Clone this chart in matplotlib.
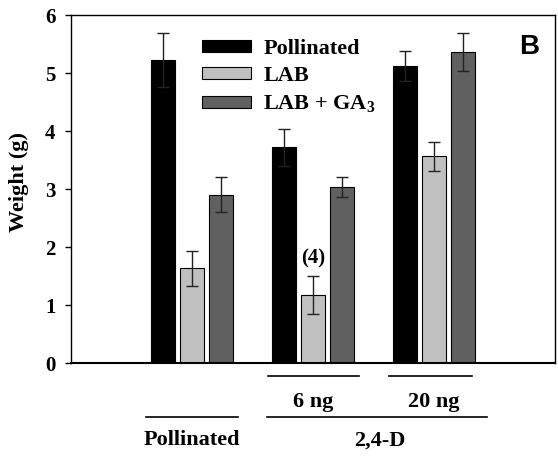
import numpy as np
import matplotlib.pyplot as plt
from matplotlib.patches import Patch

plt.rcParams['font.family'] = ['Liberation Serif', 'DejaVu Serif']
plt.rcParams['font.weight'] = 'bold'
plt.rcParams['mathtext.fontset'] = 'custom'
plt.rcParams['mathtext.rm'] = 'Liberation Serif:bold'
plt.rcParams['mathtext.it'] = 'Liberation Serif:bold'
plt.rcParams['mathtext.bf'] = 'Liberation Serif:bold'

# data
groups = ["Pollinated", "6 ng", "20 ng"]
series = ["Pollinated", "LAB", r"LAB + GA$_{\mathrm{3}}$"]
pollinated = [5.23, 3.72, 5.13]
pollinated_err = [0.46, 0.32, 0.26]
lab = [1.64, 1.18, 3.57]
lab_err = [0.30, 0.33, 0.25]
lab_ga3 = [2.91, 3.04, 5.37]
lab_ga3_err = [0.30, 0.17, 0.33]
colors = ["#000000", "#c0c0c0", "#606060"]

fig = plt.figure(figsize=(5.58, 4.57), dpi=100)
ax = fig.add_axes([0.127, 0.2046, 0.868, 0.7624])

x = np.arange(len(groups))
pitch = 0.24
width = 0.198
vals = [pollinated, lab, lab_ga3]
errs = [pollinated_err, lab_err, lab_ga3_err]
for i, (v, e) in enumerate(zip(vals, errs)):
    ax.bar(x + (i - 1) * pitch, v, width, color=colors[i], edgecolor="black",
           linewidth=0.8, yerr=e, capsize=4.2,
           error_kw=dict(ecolor="#222222", elinewidth=1, capthick=1), zorder=2)

ax.set_xlim(-1, 3)
ax.set_ylim(0, 6)
ax.set_yticks(range(7))
ax.set_xticks([])
ax.tick_params(axis="y", labelsize=15, length=4, width=1, direction="out", pad=7)
for s in ax.spines.values():
    s.set_linewidth(1)
ax.spines["bottom"].set_linewidth(1.5)
ax.set_ylabel("Weight (g)", fontsize=16, fontweight="bold")
ax.yaxis.set_label_coords(-0.087, 0.52)

# (4) annotation
ax.text(1, 1.8, "(4)", ha="center", va="center", fontsize=15)

# panel letter
ax.text(0.946, 0.908, "B", transform=ax.transAxes, ha="center", va="center",
        fontsize=20, fontweight="bold", family="Liberation Sans")

handles = [Patch(facecolor=c, edgecolor="black", linewidth=0.8) for c in colors]
ax.legend(handles, series, loc="upper left", bbox_to_anchor=(0.23, 0.988),
          frameon=False, fontsize=16, handlelength=2.2, handleheight=0.45,
          labelspacing=0.32, handletextpad=0.55)

# group labels under the axis
tr = ax.get_xaxis_transform()
lines = [((0.628, 1.38), -0.035), ((1.628, 2.314), -0.035),
         ((-0.38, 0.38), -0.153), ((0.62, 2.44), -0.153)]
for (x0, x1), yy in lines:
    ax.plot([x0, x1], [yy, yy], color="black", lw=1.2, transform=tr, clip_on=False)
ax.text(1, -0.11, "6 ng", transform=tr, ha="center", va="center", fontsize=16)
ax.text(2, -0.11, "20 ng", transform=tr, ha="center", va="center", fontsize=16)
ax.text(0, -0.22, "Pollinated", transform=tr, ha="center", va="center", fontsize=16)
ax.text(1.55, -0.22, "2,4-D", transform=tr, ha="center", va="center", fontsize=16)

fig.savefig("out.png", dpi=100)
